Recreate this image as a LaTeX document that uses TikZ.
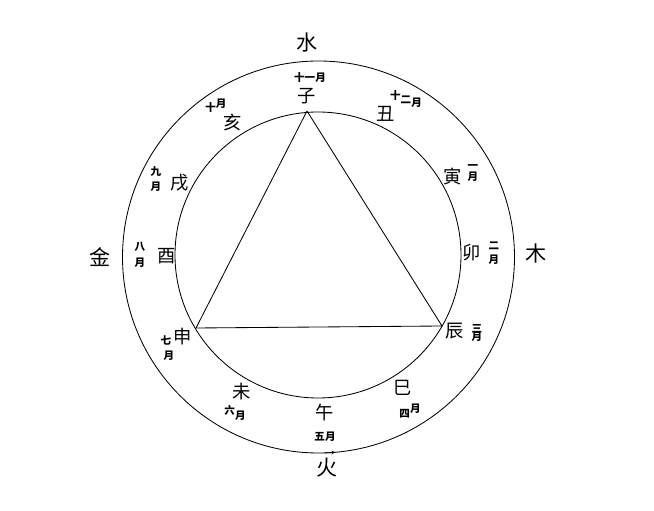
\documentclass[tikz,border=0pt]{standalone}
\usepackage{fontspec}
\setmainfont{Noto Sans CJK SC}
\usetikzlibrary{arrows.meta}

\begin{document}
\begin{tikzpicture}[x=0.025cm,y=-0.025cm,line width=0.6pt,
		elem/.style={font=\fontsize{15}{15}\selectfont,inner sep=0pt},
		branch/.style={font=\fontsize{13}{13}\selectfont,inner sep=0pt},
		month/.style={font=\fontsize{7.5}{8}\selectfont\bfseries,inner sep=0pt,align=center}]
		\useasboundingbox (0,0) rectangle (654,511);
		\draw (318.5,257) circle(196);
		\draw (318,255) circle(143);
		\draw[-{Stealth[length=3pt,width=2.5pt]}] (318.5,257) ++(88:196) arc[start angle=88,end angle=85,radius=196];
		
		\coordinate(v1) at (307,111);
		\coordinate(v2) at (196,328);
		\coordinate(v3) at (442,326);
		\draw (v1) to (v2) to (v3) to (v1);
		
		\node(e1) at (307,43)[elem]{水};
		\node(e2) at (536,253)[elem]{木};
		\node(e3) at (327,468)[elem]{火};
		\node(e4) at (100,257)[elem]{金};
		
		\node(1) at (307,96)[branch]{子};
		\node(2) at (386,114)[branch]{丑};
		\node(3) at (453,177)[branch]{寅};
		\node(4) at (472,253)[branch]{卯};
		\node(5) at (455,331)[branch]{辰};
		\node(6) at (403,388)[branch]{巳};
		\node(7) at (325,413)[branch]{午};
		\node(8) at (242,392)[branch]{未};
		\node(9) at (183,337)[branch]{申};
		\node(10) at (167,256)[branch]{酉};
		\node(11) at (180,183)[branch]{戌};
		\node(12) at (233,122)[branch]{亥};
		
		\node(m1) at (310,77)[month]{十一月};
		\node(m2) at (406,99)[month]{十\raisebox{-2.5pt}{二}\raisebox{-5pt}{月}};
		\node(m3) at (473,173)[month]{一\\月};
		\node(m4) at (494,253)[month]{二\\[2pt]月};
		\node(m5) at (477,333)[month]{三\\[-2pt]月};
		\node(m6) at (410,411)[month]{四\raisebox{3pt}{月}};
		\node(m7) at (325,437)[month]{五月};
		\node(m8) at (235,413)[month]{\raisebox{4pt}{六}月};
		\node(m9) at (166,348)[month]{七\\[3pt]\hspace{4pt}月};
		\node(m10) at (140,255)[month]{八\\[3pt]月};
		\node(m11) at (156,179)[month]{九\\[3pt]月};
		\node(m12) at (216,106)[month]{十\raisebox{3pt}{月}};
	\end{tikzpicture}
\end{document}
